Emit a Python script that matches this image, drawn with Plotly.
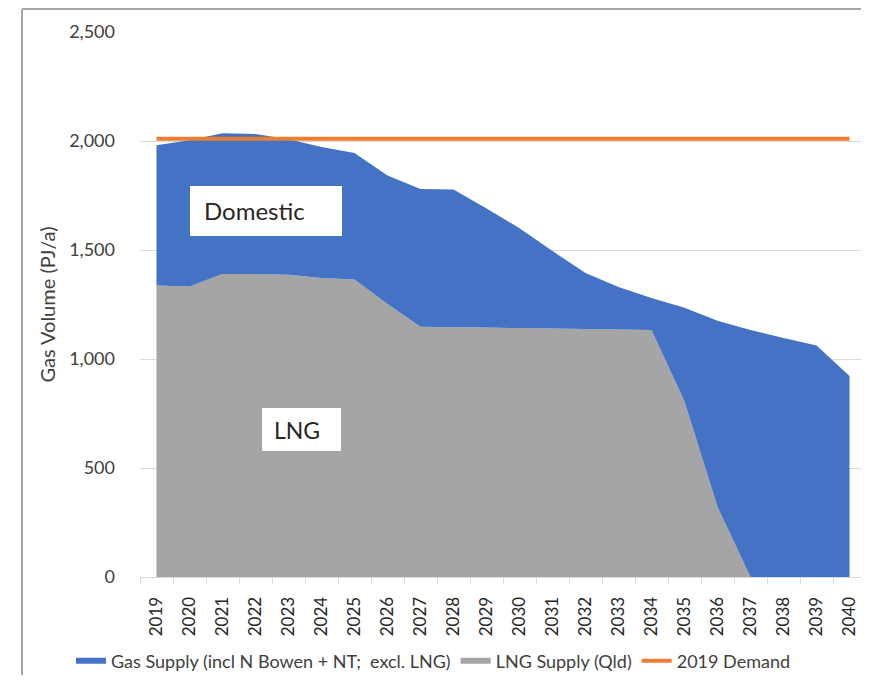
import plotly.graph_objects as go

# ---- data (PJ/a) ----
years = list(range(2019, 2041))
lng_supply = [1337, 1332, 1390, 1390, 1387, 1371, 1365, 1252, 1148, 1146, 1144,
              1142, 1140, 1138, 1135, 1133, 805, 322, 0, 0, 0, 0]
domestic_supply = [643, 671, 646, 642, 621, 601, 580, 590, 632, 632, 546,
                   458, 355, 257, 195, 147, 430, 853, 1133, 1096, 1062, 922]
demand_2019_value = 2010
demand_2019 = [demand_2019_value for _ in years]
y_tick_vals = [0, 500, 1000, 1500, 2000, 2500]
y_tick_text = ["0", "500", "1,000", "1,500", "2,000", "2,500"]

FONT = "Lato"
BLUE = "#4472C4"
GREY = "#A5A5A5"
ORANGE = "#ED7D31"

# page body has an 8px margin; figure sized so the page does not overflow the window
OFF = 8
W, H = 869 - OFF, 683 - 2 * OFF
# plot area in page (reference) pixels
PL, PR, PT, PB = 140, 866, 32, 577
PW, PH = PR - PL, PB - PT


def px(x):
    return (x - PL) / PW


def py(y):
    return (PB - y) / PH


fig = go.Figure()
fig.add_trace(go.Scatter(
    x=years, y=lng_supply, name="LNG Supply (Qld)", stackgroup="s",
    mode="none", fillcolor=GREY, legendrank=2, hoverinfo="x+y+name"))
fig.add_trace(go.Scatter(
    x=years, y=domestic_supply, name="Gas Supply (incl N Bowen + NT;&nbsp; excl. LNG)",
    stackgroup="s", mode="none", fillcolor=BLUE, legendrank=1, hoverinfo="x+y+name"))
fig.add_trace(go.Scatter(
    x=years, y=demand_2019, name="2019 Demand", mode="lines",
    line=dict(color=ORANGE, width=4), legendrank=3))

shapes = [
    # outer frame (left and top edges visible)
    dict(type="line", xref="paper", yref="paper", x0=px(22), x1=px(22), y0=py(9), y1=py(683),
         line=dict(color="#A6A6A6", width=2)),
    dict(type="line", xref="paper", yref="paper", x0=px(22), x1=px(869), y0=py(9), y1=py(9),
         line=dict(color="#A6A6A6", width=2)),
    # label boxes
    dict(type="rect", xref="paper", yref="paper", x0=px(190), x1=px(342), y0=py(236), y1=py(186),
         fillcolor="white", line=dict(width=0), layer="above"),
    dict(type="rect", xref="paper", yref="paper", x0=px(262), x1=px(341), y0=py(451), y1=py(408),
         fillcolor="white", line=dict(width=0), layer="above"),
]

annotations = [
    dict(text="Domestic", xref="paper", yref="paper", x=px(202), y=py(211),
         xanchor="left", yanchor="middle", showarrow=False,
         font=dict(family=FONT, size=24, color="#262626")),
    dict(text="LNG", xref="paper", yref="paper", x=px(272), y=py(430),
         xanchor="left", yanchor="middle", showarrow=False,
         font=dict(family=FONT, size=23, color="#262626")),
]

fig.update_layout(
    width=W, height=H,
    margin=dict(l=PL - OFF, r=W - (PR - OFF), t=PT - OFF, b=H - (PB - OFF), autoexpand=False),
    paper_bgcolor="white", plot_bgcolor="white",
    font=dict(family=FONT, color="#404040"),
    shapes=shapes, annotations=annotations,
    showlegend=True,
    legend=dict(orientation="h", x=px(71), xanchor="left", y=py(661), yanchor="middle",
                traceorder="normal",
                font=dict(family=FONT, size=18, color="#404040"),
                bgcolor="rgba(0,0,0,0)", itemwidth=30),
    hovermode="x",
)

fig.update_xaxes(
    range=[years[0] - 0.5, years[-1] + 0.5],
    tickmode="array", tickvals=years, ticktext=[str(y) for y in years],
    tickangle=-90, ticks="", showgrid=False, zeroline=False,
    showline=True, linecolor="#D9D9D9", linewidth=1,
    ticklabelstandoff=12,
    tickfont=dict(family=FONT, size=17, color="#262626"),
    minor=dict(tickmode="array", tickvals=[y - 0.5 for y in years] + [years[-1] + 0.5],
               ticks="outside", ticklen=6, tickcolor="#D9D9D9", tickwidth=1, showgrid=False),
)
fig.update_yaxes(
    range=[0, 2500], tickmode="array", tickvals=y_tick_vals, ticktext=y_tick_text,
    showgrid=True, gridcolor="#D9D9D9", gridwidth=1, zeroline=False,
    ticks="", ticklabelstandoff=24, showline=False,
    tickfont=dict(family=FONT, size=18, color="#404040"),
    title=dict(text="Gas Volume (PJ/a)", standoff=8,
               font=dict(family=FONT, size=20, color="#404040")),
)

fig.write_html("out.html")
